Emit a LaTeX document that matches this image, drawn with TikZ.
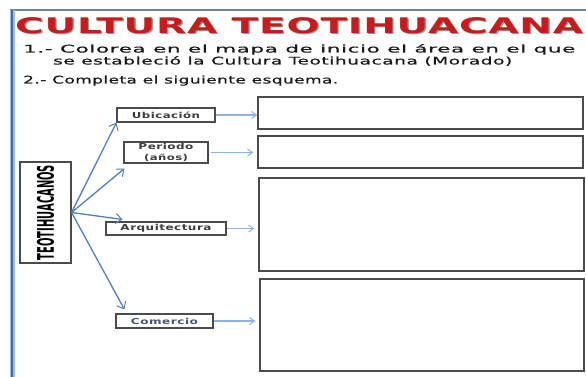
\documentclass[tikz,border=0pt]{standalone}
\usepackage{fontspec}
\usepackage{graphicx}
\setmainfont{DejaVu Sans}
\usetikzlibrary{arrows.meta}
\definecolor{framebl}{RGB}{61,106,168}
\definecolor{framelt}{RGB}{160,190,225}
\definecolor{framegray}{RGB}{110,130,155}
\definecolor{arrowbl}{RGB}{79,129,189}
\definecolor{lightbl}{RGB}{141,180,226}
\definecolor{boxgray}{RGB}{75,75,75}
\definecolor{titlered}{RGB}{200,28,28}
\definecolor{txtcol}{RGB}{25,25,25}
\definecolor{lblcol}{RGB}{60,60,60}
\definecolor{comcol}{RGB}{70,85,120}
\newcommand{\wfit}[2]{\resizebox{#1}{\height}{#2}}
\tikzset{
  txtline/.style={anchor=base west, inner sep=0pt, text=txtcol},
  smallbox/.style={draw=boxgray, line width=1.1pt, inner sep=0pt, text=lblcol, align=center},
  bigbox/.style={draw=boxgray, line width=1.3pt, inner sep=0pt},
  mainarr/.style={draw=arrowbl, line width=1.3pt, -{Straight Barb[length=6pt,width=10pt,line width=1pt]}},
  sidearr/.style={draw=lightbl, line width=1.1pt, -{Straight Barb[length=5pt,width=7pt,line width=1pt]}}
}
\begin{document}
\begin{tikzpicture}[x=1pt,y=-1pt]
\useasboundingbox (0,0) rectangle (586,377);
\fill[white] (0,0) rectangle (586,377);
% frame
\draw[framegray, line width=1.2pt] (10,10) -- (586,10);
\draw[framelt, line width=5pt] (12,10) -- (12,377);
\draw[framebl, line width=2.5pt] (12,10) -- (12,377);
% title
\node[anchor=base west, inner sep=0pt, text=black!40] (tsh) at (16.3,34.5)
  {\wfit{568pt}{\fontsize{21.5}{24}\selectfont\bfseries\addfontfeature{LetterSpace=2}CULTURA TEOTIHUACANA}};
\node[anchor=base west, inner sep=0pt, text=titlered] (title) at (15,33.2)
  {\wfit{568pt}{\fontsize{21.5}{24}\selectfont\bfseries\addfontfeature{LetterSpace=2}CULTURA TEOTIHUACANA}};
% instructions
\node[txtline] (l1) at (23,52.5)
  {\wfit{552pt}{\fontsize{10.5}{12}\selectfont\addfontfeature{LetterSpace=3,FakeBold=0.6}1.- Colorea en el mapa de inicio el área en el que}};
\node[txtline] (l2) at (53,64.5)
  {\wfit{459pt}{\fontsize{10.5}{12}\selectfont\addfontfeature{LetterSpace=3,FakeBold=0.6}se estableció la Cultura Teotihuacana (Morado)}};
\node[txtline] (l3) at (23,83.5)
  {\wfit{315pt}{\fontsize{10.5}{12}\selectfont\addfontfeature{LetterSpace=3,FakeBold=0.6}2.- Completa el siguiente esquema.}};
% main vertical box
\node[draw=boxgray, line width=1.2pt, inner sep=0pt, minimum width=51pt, minimum height=101pt] (teo) at (45.5,212.5)
  {\rotatebox{90}{\resizebox{95pt}{17pt}{\bfseries TEOTIHUACANOS}}};
% small boxes
\node[smallbox, minimum width=98pt, minimum height=14pt] (ubi) at (166,115)
  {\wfit{68pt}{\fontsize{8.2}{9}\selectfont\bfseries\addfontfeature{LetterSpace=4}Ubicación}};
\node[smallbox, minimum width=84pt, minimum height=21pt] (per) at (166,152.5)
  {\wfit{55pt}{\fontsize{8.2}{9}\selectfont\bfseries\addfontfeature{LetterSpace=4}Periodo}\\[-1.5pt]\wfit{44pt}{\fontsize{8.2}{9}\selectfont\bfseries\addfontfeature{LetterSpace=4}(años)}};
\node[smallbox, minimum width=120pt, minimum height=13pt] (arq) at (166,228.5)
  {\wfit{91pt}{\fontsize{8.2}{9}\selectfont\bfseries\addfontfeature{LetterSpace=4}Arquitectura}};
\node[smallbox, minimum width=97pt, minimum height=14pt, text=comcol] (com) at (164.5,321)
  {\wfit{67pt}{\fontsize{8.2}{9}\selectfont\bfseries\addfontfeature{LetterSpace=4}Comercio}};
% big answer boxes
\node[bigbox, minimum width=325pt, minimum height=32pt] (b1) at (420.5,113) {};
\node[bigbox, minimum width=325pt, minimum height=32pt] (b2) at (420.5,152) {};
\node[bigbox, minimum width=325pt, minimum height=93pt] (b3) at (421.5,224.5) {};
\node[bigbox, minimum width=324pt, minimum height=92pt] (b4) at (422,325) {};
% main arrows
\draw[mainarr] (teo.east) -- (ubi.south west);
\draw[mainarr] (teo.east) -- ([shift={(1,5)}]per.south west);
\draw[mainarr] (teo.east) -- ([shift={(17,-2)}]arq.north west);
\draw[mainarr] (teo.east) -- ([shift={(9,-4)}]com.north west);
% side arrows
\draw[sidearr] (ubi.east) -- (ubi.east -| b1.west);
\draw[sidearr, shorten <=2pt, shorten >=4pt] (per.east) -- (per.east -| b2.west);
\draw[sidearr, shorten >=4pt] (arq.east) -- (arq.east -| b3.west);
\draw[sidearr, shorten >=4pt] (com.east) -- (com.east -| b4.west);
\end{tikzpicture}
\end{document}
